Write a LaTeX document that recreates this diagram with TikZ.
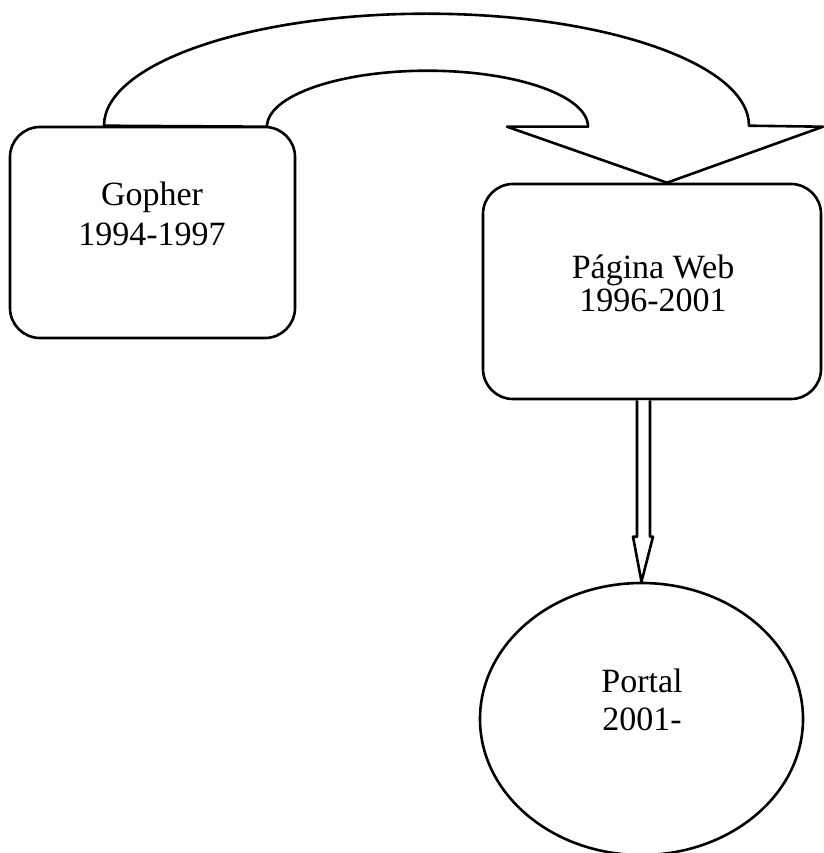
\documentclass[tikz,border=0pt]{standalone}
\usepackage{fontspec}
\setmainfont{Liberation Serif}
\usetikzlibrary{shapes.geometric,calc}

\tikzset{
  outline/.style={draw=black, line width=2.6pt, line join=round},
  stagebox/.style={outline, rectangle, rounded corners=30pt, inner sep=0pt, fill=white},
  stageoval/.style={outline, ellipse, inner sep=0pt, fill=white},
  lbl/.style={anchor=base, inner sep=0pt, font=\fontsize{34}{40}\selectfont},
  blockarrow/.style={outline, fill=white}
}

\begin{document}
\begin{tikzpicture}[x=1pt, y=-1pt]
\useasboundingbox (0,0) rectangle (823,853);

% the three stages
\node[stagebox, minimum width=285pt, minimum height=211pt] (gopher) at (152.5,232.5) {};
\node[stagebox, minimum width=338pt, minimum height=215pt] (web) at (652,291.5) {};
\node[stageoval, minimum width=323pt, minimum height=272pt] (portal) at (641.5,719) {};

% labels
\node[lbl] (gopherName)  at (152,205) {Gopher};
\node[lbl] (gopherYears) at (152,245) {1994-1997};
\node[lbl] (webName)     at (653,278) {Página Web};
\node[lbl] (webYears)    at (653,311) {1996-2001};
\node[lbl] (portalName)  at (642,692) {Portal};
\node[lbl] (portalYears) at (642,730) {2001-};

% curved block arrow from Gopher over to Página Web
\coordinate (outerStart) at ($(gopher.north)+(-48.5,0)$);
\coordinate (innerStart) at ($(gopher.north)+(114.5,0)$);
\coordinate (headTip)    at ($(web.north)+(15,0)$);
\draw[blockarrow]
  (outerStart)
  arc[start angle=180, end angle=360, x radius=322.5, y radius=112]
  -- ($(headTip)+(156,-56)$)
  -- (headTip)
  -- ($(headTip)+(-160,-56)$)
  -- ($(headTip)+(-79,-56)$)
  arc[start angle=0, end angle=-180, x radius=160.5, y radius=56]
  -- cycle;

% straight block arrow from Página Web down to Portal
\coordinate (shaftTop) at ($(web.south)+(-8.5,0)$);
\draw[blockarrow]
  ($(shaftTop)+(-6.5,0)$)
  -- ($(portal.north)+(-4.5,-45)$)
  -- ($(portal.north)+(-8.5,-45)$)
  -- (portal.north)
  -- ($(portal.north)+(11.5,-45)$)
  -- ($(portal.north)+(8.5,-45)$)
  -- ($(shaftTop)+(6.5,0)$);
\end{tikzpicture}
\end{document}
